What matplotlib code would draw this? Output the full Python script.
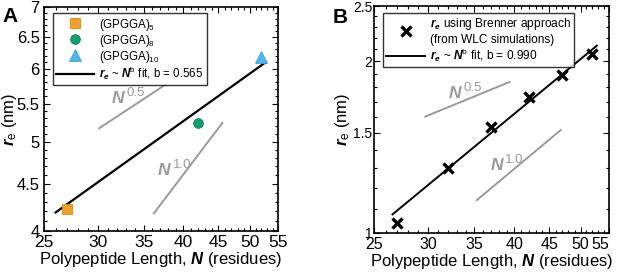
import matplotlib
matplotlib.use('Agg')
import matplotlib.pyplot as plt
from matplotlib.ticker import FixedLocator, MultipleLocator, NullFormatter
from matplotlib.lines import Line2D

plt.rcParams['font.family'] = ['Liberation Sans', 'DejaVu Sans']
plt.rcParams['mathtext.fontset'] = 'custom'
plt.rcParams['mathtext.rm'] = 'Liberation Sans'
plt.rcParams['mathtext.it'] = 'Liberation Sans:italic'
plt.rcParams['mathtext.bf'] = 'Liberation Sans:bold:italic'

# ---- Panel A data ----
a_labels = ['(GPGGA)$_5$', '(GPGGA)$_8$', '(GPGGA)$_{10}$']
a_N = [27, 42, 52]
a_re = [4.23, 5.24, 6.18]
a_markers = ['s', 'o', '^']
a_colors = ['#F0A030', '#149E6B', '#56B4E9']
a_edges = ['#D08A20', '#0E8A5C', '#3E9FD8']
a_fit_N = [26.0, 52.8]
a_fit_re = [4.19, 6.10]
a_half_N = [30.1, 37.7]
a_half_re = [5.17, 5.77]
a_one_N = [36.2, 45.6]
a_one_re = [4.18, 5.24]

# ---- Panel B data ----
b_N = [27, 32, 37, 42, 47, 52]
b_re = [1.04, 1.30, 1.535, 1.73, 1.89, 2.06]
b_fit_N = [26.6, 52.8]
b_fit_re = [1.078, 2.13]
b_half_N = [29.7, 39.4]
b_half_re = [1.60, 1.84]
b_one_N = [35.3, 46.8]
b_one_re = [1.142, 1.516]

x_ticks = [25, 30, 35, 40, 45, 50, 55]
a_yticks = [4, 4.5, 5, 5.5, 6, 6.5, 7]
b_yticks = [1, 1.5, 2, 2.5]

GREY = '#9a9a9a'
LEG_FS = 8.3

fig = plt.figure(figsize=(6.17, 2.73), dpi=100)
axA = fig.add_axes([44 / 617, 1 - 231 / 273, 234 / 617, 224 / 273])
axB = fig.add_axes([374 / 617, 1 - 233 / 273, 235 / 617, 227 / 273])


def style_axis(ax, yticks, ylim, ypad, ysize, xsize, last_right):
    ax.set_xscale('log')
    ax.set_yscale('log')
    ax.set_xlim(25, 55)
    ax.set_ylim(*ylim)
    ax.xaxis.set_major_locator(FixedLocator(x_ticks))
    ax.xaxis.set_minor_locator(MultipleLocator(1))
    ax.yaxis.set_major_locator(FixedLocator(yticks))
    ax.yaxis.set_minor_locator(MultipleLocator(0.1))
    xl = ax.set_xticklabels([str(t) for t in x_ticks])
    if last_right:
        xl[-1].set_horizontalalignment('right')
    ax.set_yticklabels([('%g' % t) for t in yticks])
    ax.xaxis.set_minor_formatter(NullFormatter())
    ax.yaxis.set_minor_formatter(NullFormatter())
    ax.tick_params(which='both', direction='in', top=True, right=True, width=0.8)
    ax.tick_params(which='major', length=4)
    ax.tick_params(which='minor', length=2)
    ax.tick_params(axis='x', which='major', labelsize=xsize, pad=3)
    ax.tick_params(axis='y', which='major', labelsize=ysize, pad=ypad)
    for s in ax.spines.values():
        s.set_linewidth(1.2)
    ax.set_xlabel('Polypeptide Length, $\\mathbf{N}$ (residues)', fontsize=12, labelpad=0)


def power_label(ax, n, r, exp):
    ax.annotate('N', xy=(n, r), xycoords='data', fontsize=12.5, fontweight='bold',
                style='italic', color=GREY)
    ax.annotate(exp, xy=(n, r), xycoords='data', xytext=(10.5, 4.8),
                textcoords='offset points', fontsize=9.5, color=GREY)


# ---- Panel A ----
style_axis(axA, a_yticks, (4, 7), 3, 12, 12.5, False)
axA.plot(a_half_N, a_half_re, color=GREY, lw=1.4)
axA.plot(a_one_N, a_one_re, color=GREY, lw=1.4)
axA.plot(a_fit_N, a_fit_re, color='black', lw=1.6)
for n, r, m, c, e in zip(a_N, a_re, a_markers, a_colors, a_edges):
    axA.plot(n, r, marker=m, ms=7 if m != '^' else 8, color=c, mec=e, mew=0.6, ls='none')
power_label(axA, 31.4, 5.51, '0.5')
power_label(axA, 36.7, 4.60, '1.0')
axA.set_ylabel('$\\mathbf{r}_\\mathrm{e}$ (nm)', fontsize=12)
axA.yaxis.set_label_coords(-0.105, 0.5)

handlesA = [Line2D([], [], marker=m, ms=7 if m != '^' else 8, color=c, mec=e, mew=0.6, ls='none')
            for m, c, e in zip(a_markers, a_colors, a_edges)]
handlesA.append(Line2D([], [], color='black', lw=1.6))
labelsA = a_labels + ['$\\mathbf{r_e}$ ~ $\\mathbf{N}^\\mathrm{b}$ fit, b = 0.565']
legA = axA.legend(handlesA, labelsA, loc='upper left', bbox_to_anchor=(0.038, 0.973),
                  borderaxespad=0, fontsize=LEG_FS, frameon=True, fancybox=False,
                  edgecolor='black', handlelength=3.3, handletextpad=0.4,
                  labelspacing=0.0, borderpad=0.3)
legA.get_frame().set_linewidth(1.0)
fig.text(2 / 617, 1 - 22 / 273, 'A', fontsize=15, fontweight='bold')

# ---- Panel B ----
style_axis(axB, b_yticks, (1, 2.5), 1, 10, 11.5, True)
axB.plot(b_half_N, b_half_re, color=GREY, lw=1.4)
axB.plot(b_one_N, b_one_re, color=GREY, lw=1.4)
axB.plot(b_fit_N, b_fit_re, color='black', lw=1.4)
axB.plot(b_N, b_re, marker='x', ms=7, mew=2.4, color='black', ls='none')
power_label(axB, 32.1, 1.724, '0.5')
power_label(axB, 37.0, 1.29, '1.0')
axB.set_ylabel('$\\mathbf{r}_\\mathrm{e}$ (nm)', fontsize=12)
axB.yaxis.set_label_coords(-0.093, 0.5)

handlesB = [Line2D([], [], marker='x', ms=7, mew=2.4, color='black', ls='none'),
            Line2D([], [], color='black', lw=1.4)]
labelsB = ['$\\mathbf{r_e}$ using Brenner approach\n(from WLC simulations)',
           '$\\mathbf{r_e}$ ~ $\\mathbf{N}^\\mathrm{b}$ fit, b = 0.990']
legB = axB.legend(handlesB, labelsB, loc='upper left', bbox_to_anchor=(0.038, 0.969),
                  borderaxespad=0, fontsize=LEG_FS + 0.3, frameon=True, fancybox=False,
                  edgecolor='black', handlelength=3.3, handletextpad=0.4,
                  labelspacing=0.1, borderpad=0.25)
legB.get_frame().set_linewidth(1.0)
fig.text(333 / 617, 1 - 23 / 273, 'B', fontsize=15, fontweight='bold')

fig.savefig('out.png', dpi=100)
